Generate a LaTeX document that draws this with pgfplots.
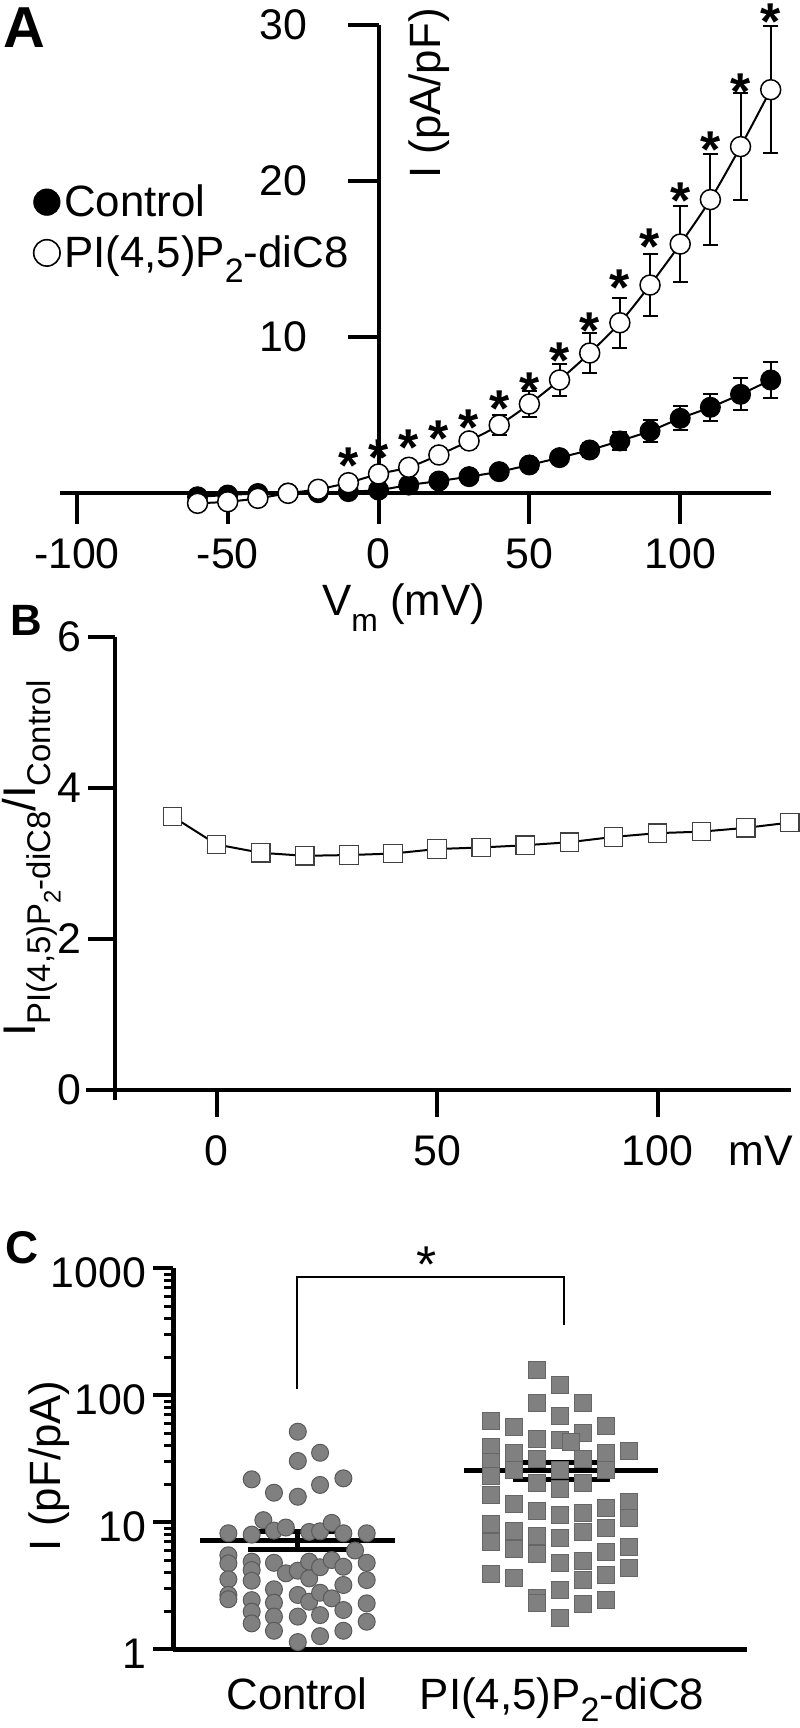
\documentclass[border=0pt]{standalone}
\usepackage{fontspec}
\setmainfont{Liberation Sans}
\usepackage{pgfplots}
\usepackage{pgfplotstable}
\pgfplotsset{compat=1.18}
\definecolor{ptgray}{RGB}{128,128,128}
\definecolor{ptedge}{RGB}{90,90,90}

\pgfplotstableread{
v i e
-60 -0.26 0.10
-50 -0.15 0.10
-40 -0.05 0.10
-30 -0.02 0.10
-20 0.00 0.10
-10 0.07 0.10
0 0.17 0.10
10 0.49 0.15
20 0.75 0.20
30 1.03 0.25
40 1.35 0.30
50 1.78 0.35
60 2.25 0.40
70 2.74 0.45
80 3.32 0.55
90 3.96 0.70
100 4.77 0.77
110 5.48 0.86
120 6.31 1.02
130 7.23 1.14
}\ctrl

\pgfplotstableread{
v i e
-60 -0.68 0.15
-50 -0.58 0.15
-40 -0.36 0.15
-30 -0.04 0.15
-20 0.22 0.20
-10 0.64 0.20
0 1.20 0.25
10 1.63 0.30
20 2.42 0.35
30 3.32 0.45
40 4.34 0.66
50 5.69 0.83
60 7.23 1.04
70 8.96 1.30
80 10.90 1.62
90 13.32 2.00
100 15.95 2.44
110 18.80 2.90
120 22.20 3.45
130 25.85 4.07
}\pip

\pgfplotstableread{
v s
-10 2.53
0 3.06
10 3.70
20 4.28
30 4.98
40 6.16
50 7.34
60 9.26
70 11.20
80 13.96
90 16.60
100 19.50
110 22.80
120 26.50
130 31.00
}\stars

\pgfplotstableread{
v r
-10 3.62
0 3.25
10 3.14
20 3.10
30 3.11
40 3.13
50 3.19
60 3.21
70 3.24
80 3.28
90 3.35
100 3.40
110 3.42
120 3.47
130 3.54
}\ratio

\pgfplotstableread{
x y
0.741 8.2
0.741 5.5
0.741 4.75
0.741 3.56
0.741 2.68
0.741 2.48
0.829 21.8
0.829 8.0
0.829 4.9
0.829 4.21
0.829 3.47
0.829 2.44
0.829 1.98
0.829 1.6
0.873 10.4
0.913 17.1
0.913 8.6
0.913 4.8
0.913 2.97
0.913 2.33
0.913 1.81
0.913 1.4
0.958 9.1
0.958 3.97
1.003 51.7
1.003 30.4
1.003 15.9
1.003 4.16
1.003 2.68
1.003 1.81
1.003 1.14
1.046 8.4
1.046 4.9
1.046 3.62
1.046 2.37
1.087 35.3
1.087 19.7
1.087 8.5
1.087 4.43
1.087 2.79
1.087 1.86
1.087 1.27
1.131 9.9
1.131 5.05
1.131 2.52
1.175 22.2
1.175 8.2
1.175 4.47
1.175 3.21
1.175 2.04
1.175 1.4
1.219 6.0
1.263 8.2
1.263 4.8
1.263 3.51
1.263 2.3
1.263 1.65
}\cdots

\pgfplotstableread{
x y
1.905 159.6
1.993 121.6
1.905 86.7
2.080 86.7
1.993 69.2
1.731 63.4
1.820 56.5
2.166 57.6
2.080 50.3
1.905 45.1
1.993 44.5
2.035 43.0
1.731 39.4
2.253 36.3
1.820 35.1
2.166 35.1
1.731 30.0
1.905 31.7
2.080 31.7
1.820 25.8
1.993 25.8
2.166 25.8
1.731 23.3
1.905 20.4
1.993 18.4
2.080 20.4
1.731 16.3
2.253 14.5
1.820 14.0
2.166 12.9
1.905 12.2
2.080 11.8
1.993 11.4
2.253 10.8
1.731 9.8
2.166 9.0
1.820 8.6
2.080 8.4
1.905 7.86
1.993 7.5
1.731 7.0
2.253 6.4
1.820 6.2
2.166 5.87
1.905 5.6
2.080 4.99
1.993 4.78
2.253 4.35
1.731 3.9
2.166 3.85
1.820 3.64
2.080 3.55
1.993 2.93
1.905 2.56
1.905 2.3
2.166 2.43
2.080 2.27
1.993 1.76
}\pdots

\begin{document}
\begin{tikzpicture}
\useasboundingbox (0,0) rectangle (400bp,-864bp);

% ---------------- Panel A ----------------
\begin{axis}[
  at={(30bp,-246.35bp)}, anchor=south west, scale only axis,
  width=355.35bp, height=233.85bp,
  xmin=-105.6, xmax=130, ymin=0, ymax=30,
  axis x line=bottom, axis y line=middle,
  axis line style={-, line width=2bp, black},
  hide obscured x ticks=false,
  xtick={-100,-50,0,50,100}, xticklabels={-100,-50,0,50,100},
  ytick={10,20,30}, yticklabels={10,20,30},
  tick align=outside, major tick length=15.5bp,
  tick style={line width=2bp, black},
  tick label style={font=\fontsize{21.5}{24}\selectfont, inner sep=0pt},
  xticklabel style={anchor=base, yshift=-22.2bp},
  yticklabel style={anchor=east, xshift=-19.85bp},
  clip=false,
  legend style={draw=none, fill=none, at={(-0.046,0.567)}, anchor=west,
    font=\fontsize{22}{26}\selectfont, row sep=4bp,
    nodes={inner sep=2bp}},
  legend cell align=left,
]
\addlegendimage{only marks, mark=*, mark size=6.6bp, black}
\addlegendentry{Control}
\addlegendimage{only marks, mark=*, mark size=6.6bp, mark options={fill=white, draw=black, line width=0.8bp}}
\addlegendentry{PI(4,5)P\raisebox{-0.34em}{\fontsize{17}{17}\selectfont 2}-diC8}

\addplot[forget plot, only marks, mark=none,
  error bars/.cd, y dir=both, y explicit,
  error bar style={line width=1bp, draw=black},
  error mark options={rotate=90, mark size=3.75bp, line width=1bp, draw=black}]
  table[x=v, y=i, y error=e] {\ctrl};
\addplot[forget plot, smooth, black, line width=1bp, mark=*, mark size=5bp,
  mark options={fill=black, line width=0.5bp}]
  table[x=v, y=i] {\ctrl};
\addplot[forget plot, only marks, mark=none,
  error bars/.cd, y dir=both, y explicit,
  error bar style={line width=1bp, draw=black},
  error mark options={rotate=90, mark size=3.75bp, line width=1bp, draw=black}]
  table[x=v, y=i, y error=e] {\pip};
\addplot[forget plot, smooth, black, line width=1bp, mark=*, mark size=5bp,
  mark options={fill=white, draw=black, line width=0.75bp}]
  table[x=v, y=i] {\pip};
\addplot[forget plot, draw=none, nodes near coords={*},
  every node near coord/.append style={font=\fontsize{26}{26}\selectfont\bfseries,
    anchor=base, yshift=-15.1bp, inner sep=0pt}]
  table[x=v, y=s] {\stars};
\end{axis}

% ---------------- Panel B ----------------
\begin{axis}[
  at={(57.5bp,-545bp)}, anchor=south west, scale only axis,
  width=337.85bp, height=226.65bp,
  xmin=-23.05, xmax=130.2, ymin=0, ymax=6,
  axis lines=left,
  axis line style={-, line width=2bp, black},
  x axis line style={shorten <=-14.5bp},
  y axis line style={shorten <=-5bp},
  xtick={0,50,100}, xticklabels={0,50,100},
  ytick={0,2,4,6}, yticklabels={0,2,4,6},
  tick align=outside, major tick length=13.5bp,
  tick style={line width=2bp, black},
  tick label style={font=\fontsize{21.5}{24}\selectfont, inner sep=0pt},
  xticklabel style={anchor=base, yshift=-24bp},
  yticklabel style={anchor=east, xshift=-3.2bp},
  clip=false,
]
\addplot[black, line width=1bp, mark=square*, mark size=4.6bp,
  mark options={fill=white, draw=black!75, line width=0.6bp}]
  table[x=v, y=r] {\ratio};
\end{axis}

% ---------------- Panel C ----------------
\begin{axis}[
  at={(86.65bp,-824.65bp)}, anchor=south west, scale only axis,
  width=286.85bp, height=190.5bp,
  xmin=0.5332, xmax=2.698, ymode=log, ymin=1, ymax=1000,
  axis lines=left,
  axis line style={-, line width=2.2bp, black},
  xtick={1,2},
  xticklabels={Control, {PI(4,5)P\raisebox{-0.28em}{\fontsize{17}{17}\selectfont 2}-diC8}},
  x tick style={draw=none},
  ytick={1,10,100,1000}, yticklabels={1,10,100,1000},
  minor ytick={2,3,4,5,6,7,8,9,20,30,40,50,60,70,80,90,200,300,400,500,600,700,800,900},
  tick align=outside, major tick length=10bp, minor tick length=4.5bp,
  major tick style={line width=2bp, black},
  minor tick style={line width=1.5bp, black},
  tick label style={font=\fontsize{21.5}{24}\selectfont, inner sep=0pt},
  xticklabel style={anchor=base, yshift=-20bp, font=\fontsize{22}{24}\selectfont},
  yticklabel style={anchor=east, xshift=-3.3bp, yshift=-2bp},
  clip=false,
]
\addplot[only marks, mark=*, mark size=4.25bp,
  mark options={fill=ptgray, draw=ptedge, line width=0.5bp}]
  table[x=x, y=y] {\cdots};
\addplot[only marks, mark=square*, mark size=4.25bp,
  mark options={fill=ptgray, draw=ptgray!80!black, line width=0.4bp}]
  table[x=x, y=y] {\pdots};
% means and SEM
\addplot[black, line width=2.5bp] coordinates {(0.634,7.16) (1.370,7.16)};
\addplot[black, line width=2.5bp] coordinates {(0.815,8.43) (1.192,8.43)};
\addplot[black, line width=2.5bp] coordinates {(0.815,6.13) (1.192,6.13)};
\addplot[black, line width=2.5bp] coordinates {(1.003,6.13) (1.003,8.43)};
\addplot[black, line width=2.5bp] coordinates {(1.630,25.7) (2.362,25.7)};
\addplot[black, line width=2.5bp] coordinates {(1.815,29.8) (2.181,29.8)};
\addplot[black, line width=2.5bp] coordinates {(1.815,21.9) (2.181,21.9)};
\addplot[black, line width=2.5bp] coordinates {(1.996,21.9) (1.996,29.8)};
% bracket
\addplot[black, line width=0.8bp] coordinates {(1.0,112) (1.0,859) (2.008,859) (2.008,355)};
\addplot[draw=none, nodes near coords={*},
  every node near coord/.append style={font=\fontsize{26}{26}\selectfont,
    anchor=base, yshift=-15.1bp, inner sep=0pt}]
  coordinates {(1.49,1343)};
\end{axis}

% ---------------- labels ----------------
\node[anchor=base west, inner sep=0pt, font=\fontsize{29}{29}\selectfont\bfseries] at (1.5bp,-23.5bp) {A};
\node[anchor=base west, inner sep=0pt, font=\fontsize{22}{22}\selectfont\bfseries] at (5bp,-317.5bp) {B};
\node[anchor=base west, inner sep=0pt, font=\fontsize{23}{23}\selectfont\bfseries] at (2.5bp,-631.5bp) {C};

\node[rotate=90, anchor=base, inner sep=0pt, font=\fontsize{22}{26}\selectfont] at (220bp,-46.75bp) {I (pA/pF)};
\node[anchor=base west, inner sep=0pt, font=\fontsize{22}{26}\selectfont] at (160.85bp,-307.5bp)
  {V\raisebox{-0.38em}{\fontsize{16}{16}\selectfont m} (mV)};

\node[rotate=90, anchor=base, inner sep=0pt, font=\fontsize{23}{26}\selectfont] at (17.8bp,-429.25bp)
  {I\raisebox{-0.33em}{\fontsize{16.5}{16.5}\selectfont PI(4,5)P\raisebox{-0.3em}{\fontsize{12}{12}\selectfont 2}-diC8}/I\raisebox{-0.33em}{\fontsize{16.5}{16.5}\selectfont Control}};
\node[anchor=base west, inner sep=0pt, font=\fontsize{21.5}{24}\selectfont] at (364bp,-582.5bp) {mV};

\node[rotate=90, anchor=base, inner sep=0pt, font=\fontsize{22}{26}\selectfont] at (30bp,-732.9bp) {I (pF/pA)};
\end{tikzpicture}
\end{document}
